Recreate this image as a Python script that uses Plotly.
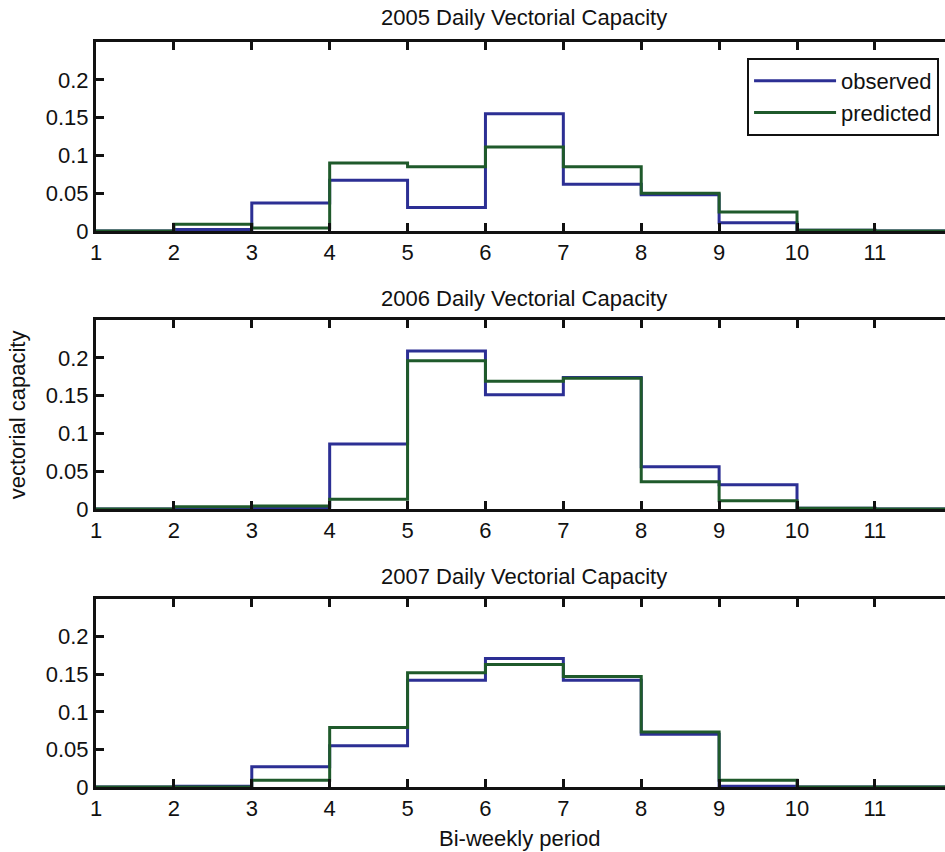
import plotly.graph_objects as go

# Bi-weekly period boundaries (step edges) and per-period values
periods = list(range(1, 13))

obs_2005 = [0.0, 0.002, 0.037, 0.067, 0.031, 0.155, 0.062, 0.048, 0.011, 0.001, 0.0]
pred_2005 = [0.0, 0.009, 0.004, 0.090, 0.085, 0.111, 0.085, 0.050, 0.025, 0.001, 0.0]

obs_2006 = [0.0, 0.001, 0.002, 0.086, 0.209, 0.151, 0.174, 0.056, 0.032, 0.001, 0.0]
pred_2006 = [0.0, 0.003, 0.004, 0.013, 0.196, 0.169, 0.173, 0.036, 0.011, 0.001, 0.0]

obs_2007 = [0.0, 0.001, 0.027, 0.055, 0.142, 0.171, 0.142, 0.070, 0.001, 0.0, 0.0]
pred_2007 = [0.0, 0.0, 0.009, 0.079, 0.152, 0.163, 0.147, 0.073, 0.009, 0.0, 0.0]

years = ["2005", "2006", "2007"]
observed = [obs_2005, obs_2006, obs_2007]
predicted = [pred_2005, pred_2006, pred_2007]

x_ticks = list(range(1, 12))
y_ticks = [0, 0.05, 0.1, 0.15, 0.2]
y_tick_text = ["0", "0.05", "0.1", "0.15", "0.2"]

BLUE = "#2c2f94"
GREEN = "#1f5a2b"
INK = "#111111"
FONT = "Liberation Sans, Arial, sans-serif"
FS = 22

W, H = 945, 852
M_L, M_R, M_T, M_B = 96, 0, 42, 65
domains = [[0.7463, 1.0], [0.3732, 0.6268], [0.0, 0.2523]]


def stairs(vals):
    return vals + [vals[-1]]


fig = go.Figure()
for i in range(3):
    xa = "x" if i == 0 else f"x{i+1}"
    ya = "y" if i == 0 else f"y{i+1}"
    fig.add_trace(go.Scatter(
        x=periods, y=stairs(observed[i]), mode="lines", line_shape="hv",
        line=dict(color=BLUE, width=3), name="observed",
        showlegend=(i == 0), xaxis=xa, yaxis=ya, hoverinfo="skip"))
    fig.add_trace(go.Scatter(
        x=periods, y=stairs(predicted[i]), mode="lines", line_shape="hv",
        line=dict(color=GREEN, width=3), name="predicted",
        showlegend=(i == 0), xaxis=xa, yaxis=ya, hoverinfo="skip"))

layout = dict(
    width=W, height=H,
    margin=dict(l=M_L, r=M_R, t=M_T, b=M_B, pad=0),
    paper_bgcolor="white", plot_bgcolor="white",
    font=dict(family=FONT, size=FS, color=INK),
    legend=dict(
        x=0.993, y=0.9785, xanchor="right", yanchor="top",
        bordercolor=INK, borderwidth=2, bgcolor="white",
        font=dict(family=FONT, size=FS, color=INK),
        itemwidth=82, tracegroupgap=0),
)

for i in range(3):
    sx = "" if i == 0 else str(i + 1)
    ysuf = "y" if i == 0 else f"y{i+1}"
    xsuf = "x" if i == 0 else f"x{i+1}"
    layout[f"xaxis{sx}"] = dict(
        range=[1, 11.9], domain=[0, 1], anchor=ysuf,
        tickmode="array", tickvals=x_ticks,
        ticks="inside", ticklen=8, tickwidth=3, tickcolor=INK,
        showline=True, linewidth=3, linecolor=INK, mirror="ticks",
        showgrid=False, zeroline=False,
        tickfont=dict(family=FONT, size=FS, color=INK))
    layout[f"yaxis{sx}"] = dict(
        range=[0, 0.25], domain=domains[i], anchor=xsuf,
        tickmode="array", tickvals=y_ticks, ticktext=y_tick_text,
        ticks="inside", ticklen=8, tickwidth=3, tickcolor=INK,
        showline=True, linewidth=3, linecolor=INK,
        showgrid=False, zeroline=False,
        tickfont=dict(family=FONT, size=FS, color=INK))
    # right-hand tick stubs at the edge of the visible window
    layout[f"yaxis{i+4}"] = dict(
        range=[0, 0.25], overlaying=ysuf, side="right", anchor=xsuf,
        tickmode="array", tickvals=y_ticks,
        ticks="inside", ticklen=3, tickwidth=2, tickcolor="#777777",
        showticklabels=False, showline=False, showgrid=False, zeroline=False)

fig.update_layout(**layout)

# Panel titles
title_y = [1.033, 0.656, 0.282]
for i, yr in enumerate(years):
    fig.add_annotation(
        text=f"{yr} Daily Vectorial Capacity", xref="paper", yref="paper",
        x=0.504, y=title_y[i], xanchor="center", yanchor="middle",
        showarrow=False, font=dict(family=FONT, size=FS, color=INK))

fig.add_annotation(
    text="Bi-weekly period", xref="paper", yref="paper",
    x=0.4994, y=-0.0685, xanchor="center", yanchor="middle",
    showarrow=False, font=dict(family=FONT, size=FS, color=INK))

fig.add_annotation(
    text="vectorial capacity", xref="paper", yref="paper",
    x=-0.093, y=0.499, xanchor="center", yanchor="middle", textangle=-90,
    showarrow=False, font=dict(family=FONT, size=FS, color=INK))

fig.write_html("out.html", config={"displayModeBar": False})
